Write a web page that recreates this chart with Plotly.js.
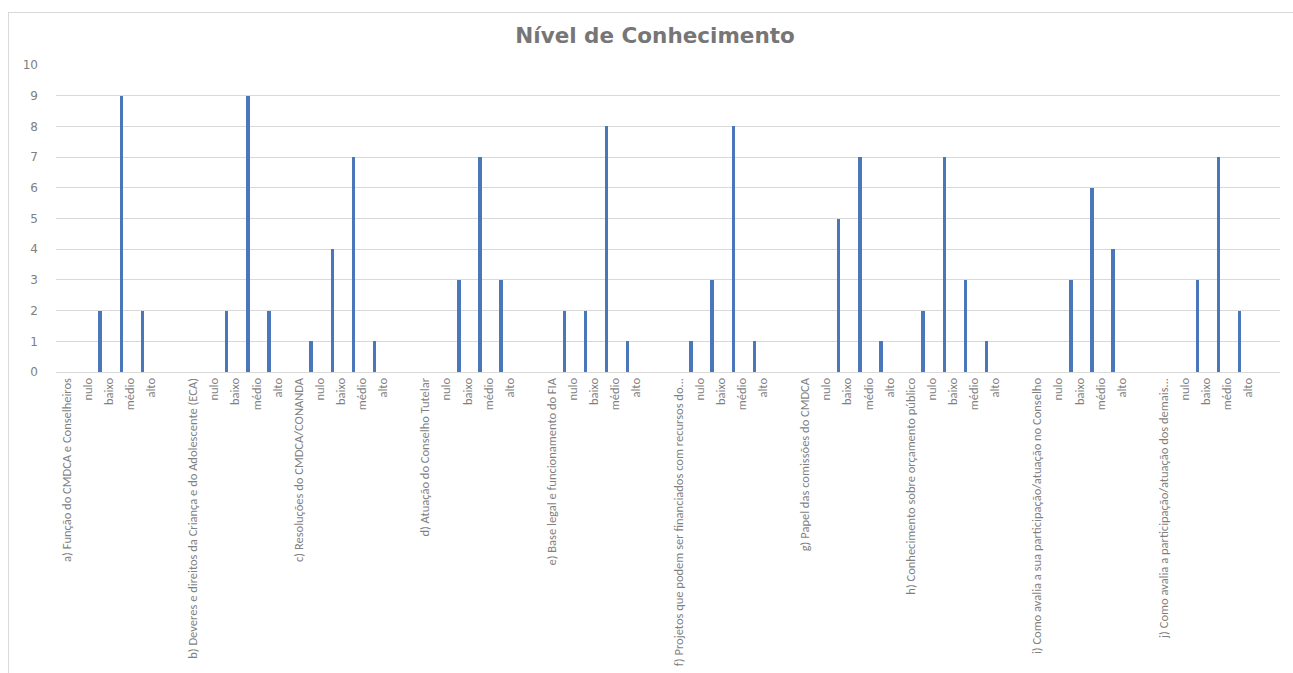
<!DOCTYPE html>
<html>
<head>
<meta charset="utf-8">
<script src="https://cdn.plot.ly/plotly-3.0.1.min.js"></script>
<style>
  html, body { margin: 0; padding: 0; background: #fff; overflow: hidden; }
  #chart { position: absolute; left: 0; top: 0; width: 1293px; height: 673px; }
  #frame { position: absolute; left: 8px; top: 12px; width: 1300px; height: 700px;
           border-top: 1px solid #d9d9d9; border-left: 1px solid #d9d9d9; pointer-events: none; }
</style>
</head>
<body>
<div id="chart"></div>
<div id="frame"></div>
<script>
// Question groups (category headers on the x axis)
const groups = [
  "a) Função do CMDCA e Conselheiros",
  "b) Deveres e direitos da Criança e do Adolescente (ECA)",
  "c) Resoluções do CMDCA/CONANDA",
  "d) Atuação do Conselho Tutelar",
  "e) Base legal e funcionamento do FIA",
  "f) Projetos que podem ser financiados com recursos do...",
  "g) Papel das comissões do CMDCA",
  "h) Conhecimento sobre orçamento público",
  "i) Como avalia a sua participação/atuação no Conselho",
  "j) Como avalia a participação/atuação dos demais..."
];
// Knowledge levels
const levels = ["nulo", "baixo", "médio", "alto"];
// Counts per group, in the order of levels
const valA = [0, 2, 9, 2];
const valB = [0, 2, 9, 2];
const valC = [1, 4, 7, 1];
const valD = [0, 3, 7, 3];
const valE = [2, 2, 8, 1];
const valF = [1, 3, 8, 1];
const valG = [0, 5, 7, 1];
const valH = [2, 7, 3, 1];
const valI = [0, 3, 6, 4];
const valJ = [0, 3, 7, 2];
const groupValues = [valA, valB, valC, valD, valE, valF, valG, valH, valI, valJ];
// Blank row in the source sheet after each group (1 = yes)
const blankAfter = [1, 0, 1, 1, 1, 1, 0, 1, 1, 1];

// Build the category sequence
const tickText = [];
const barX = [];
const barY = [];
groups.forEach((g, gi) => {
  tickText.push(g);
  levels.forEach((lv, li) => {
    barX.push(tickText.length);
    barY.push(groupValues[gi][li]);
    tickText.push(lv);
  });
  if (blankAfter[gi]) tickText.push("");
});
const tickVals = tickText.map((_, i) => i);

const labelFont = "Carlito, 'Liberation Sans', sans-serif";

const trace = {
  type: "bar",
  x: barX,
  y: barY,
  width: 0.16,
  offset: -0.49,
  marker: { color: "#4a76ba", line: { width: 0 } },
  hoverinfo: "x+y"
};

const layout = {
  width: 1293,
  height: 673,
  margin: { l: 56, r: 13, t: 65, b: 301, pad: 0 },
  paper_bgcolor: "#ffffff",
  plot_bgcolor: "#ffffff",
  showlegend: false,
  bargap: 0,
  title: {
    text: "<b>Nível de Conhecimento</b>",
    font: { family: "'DejaVu Sans', sans-serif", size: 21.5, color: "#767676" },
    xref: "container", x: 0.5066, xanchor: "center",
    yref: "container", y: 0.948, yanchor: "middle"
  },
  xaxis: {
    type: "linear",
    range: [-0.5, tickText.length - 0.5],
    tickmode: "array",
    tickvals: tickVals,
    ticktext: tickText,
    tickangle: -90,
    tickfont: { family: labelFont, size: 12.5, color: "#7f7f7f" },
    showgrid: false,
    zeroline: false,
    showline: true,
    linecolor: "#d9d9d9",
    linewidth: 1,
    ticks: "",
    automargin: false,
    fixedrange: true
  },
  yaxis: {
    range: [0, 10],
    tickmode: "linear",
    tick0: 0,
    dtick: 1,
    tickfont: { family: "'DejaVu Sans', sans-serif", size: 12, color: "#808080" },
    showgrid: true,
    gridcolor: "#d9d9d9",
    gridwidth: 1,
    zeroline: false,
    showline: false,
    ticks: "",
    ticklabelstandoff: 17,
    automargin: false,
    fixedrange: true
  }
};

Plotly.newPlot("chart", [trace], layout, { displayModeBar: false, staticPlot: true });
</script>
</body>
</html>
